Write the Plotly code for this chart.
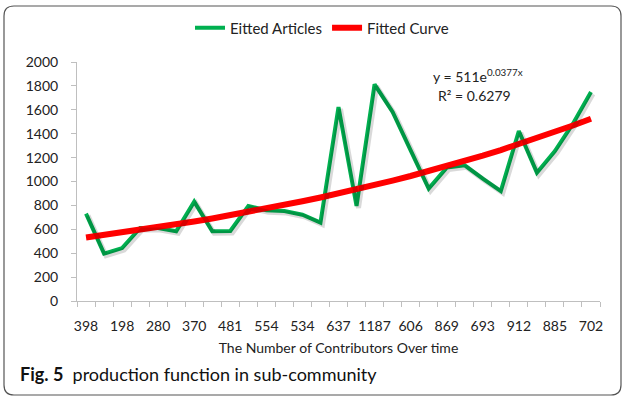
import numpy as np
import plotly.graph_objects as go

# ---- data ----
tick_labels = ["398", "198", "280", "370", "481", "554", "534", "637", "1187",
               "606", "869", "693", "912", "885", "702"]
articles = [731, 396, 443, 611, 611, 583, 831, 583, 586, 795, 759, 753, 722, 656,
            1623, 795, 1813, 1582, 1261, 940, 1116, 1135, 1024, 920, 1423, 1074,
            1255, 1484, 1749]
fit_a = 511
fit_b = 0.0377
r_squared = 0.6279

x = np.arange(1, len(articles) + 1)
fitted = fit_a * np.exp(fit_b * x)
tick_pos = x[::2]

FONT = "Lato"
GREEN = "#00b050"
RED = "#ff0000"

W, H = 624, 397
l, r, t, b = 77, 24, 62, 96
pw, ph = W - l - r, H - t - b
n = len(articles)
sx = 2 * n / pw          # 2 px in x data units
sy = 2 * 2000 / ph       # 2 px in y data units

fig = go.Figure()

# soft shadow of the green line (offset axes)
fig.add_trace(go.Scatter(x=x, y=articles, mode="lines", xaxis="x2", yaxis="y2",
                         line=dict(color="rgba(0,0,0,0.15)", width=5),
                         showlegend=False, hoverinfo="skip"))
fig.add_trace(go.Scatter(x=x, y=articles, mode="lines", name="Eitted Articles",
                         line=dict(color=GREEN, width=4)))
fig.add_trace(go.Scatter(x=x, y=fitted, mode="lines", name="Fitted Curve",
                         line=dict(color=RED, width=6)))

fig.update_layout(
    width=W, height=H,
    margin=dict(l=l, r=r, t=t, b=b, autoexpand=False),
    paper_bgcolor="white", plot_bgcolor="white",
    font=dict(family=FONT, size=14, color="#222"),
    showlegend=True,
    legend=dict(orientation="h", x=322 / W, xanchor="center", xref="container",
                y=(H - 28) / H, yanchor="middle", yref="container",
                font=dict(size=15, family=FONT), itemwidth=30),
    xaxis=dict(range=[0.5, n + 0.5], tickmode="array", automargin=False,
               tickvals=tick_pos, ticktext=tick_labels, ticks="",
               ticklabelstandoff=12,
               showline=True, linecolor="#bfbfbf", linewidth=1, showgrid=False,
               zeroline=False, tickfont=dict(size=14, family=FONT),
               minor=dict(tick0=0.5, dtick=1, ticks="outside", ticklen=5,
                          tickcolor="#bfbfbf", showgrid=False),
               title=dict(text="The Number of Contributors Over time",
                          font=dict(size=14, family=FONT), standoff=10)),
    yaxis=dict(range=[0, 2000], dtick=200, ticks="outside", ticklen=5,
               tickcolor="#bfbfbf", showline=True, linecolor="#bfbfbf",
               ticklabelstandoff=10, automargin=False,
               linewidth=1, showgrid=False, zeroline=False,
               tickfont=dict(size=14, family=FONT)),
    xaxis2=dict(range=[0.5 - sx, n + 0.5 - sx], overlaying="x", visible=False),
    yaxis2=dict(range=[sy, 2000 + sy], overlaying="y", visible=False),
)

fig.add_annotation(x=(478 - l) / pw, y=1.0 - (75 - t) / ph, xref="paper", yref="paper",
                   text=f"y = {fit_a}e<sup>{fit_b}x</sup>", showarrow=False,
                   font=dict(size=14, family=FONT), xanchor="center", yanchor="middle")
fig.add_annotation(x=(474 - l) / pw, y=1.0 - (95 - t) / ph, xref="paper", yref="paper",
                   text=f"R² = {r_squared}", showarrow=False,
                   font=dict(size=14, family=FONT), xanchor="center", yanchor="middle")

# caption
fig.add_annotation(x=(18 - l) / pw, y=(H - 374 - b) / ph, xref="paper", yref="paper",
                   xanchor="left", yanchor="middle", showarrow=False,
                   text="<b>Fig. 5</b>  production function in sub-community",
                   font=dict(size=18, family="Lato", color="#111"))

# rounded border
x0, x1 = (4 - l) / pw, (621 - l) / pw
y0, y1 = (H - 395 - b) / ph, (H - 6 - b) / ph
rx, ry = 10 / pw, 10 / ph
path = (f"M {x0+rx},{y1} L {x1-rx},{y1} Q {x1},{y1} {x1},{y1-ry} "
        f"L {x1},{y0+ry} Q {x1},{y0} {x1-rx},{y0} L {x0+rx},{y0} "
        f"Q {x0},{y0} {x0},{y0+ry} L {x0},{y1-ry} Q {x0},{y1} {x0+rx},{y1} Z")
fig.add_shape(type="path", xref="paper", yref="paper", path=path,
              line=dict(color="#555", width=1.2), layer="below")

fig.write_html("out.html")
